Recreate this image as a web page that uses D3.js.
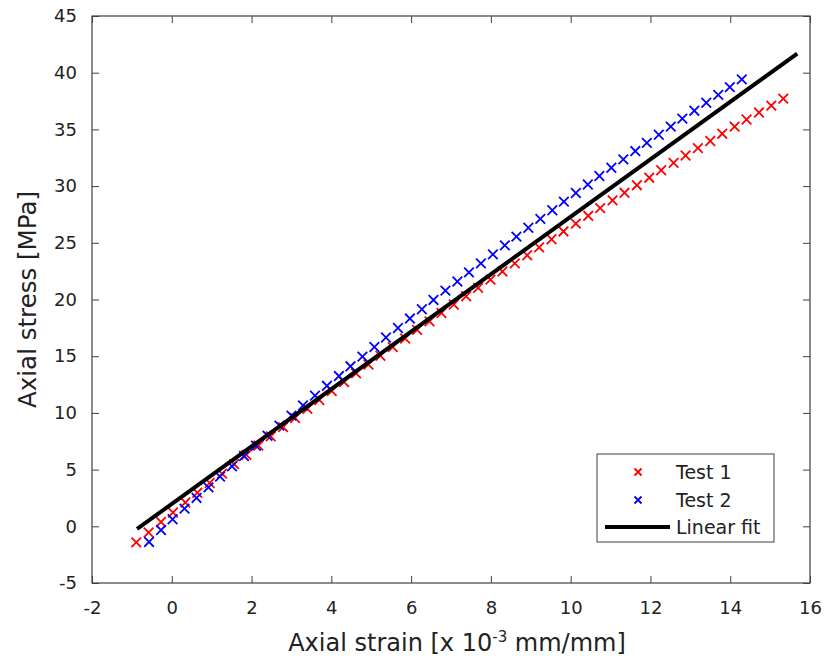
<!DOCTYPE html>
<html>
<head>
<meta charset="utf-8">
<script src="https://cdn.jsdelivr.net/npm/d3@7"></script>
<style>
  body { margin: 0; background: #fff; }
  svg { display: block; font-family: "DejaVu Sans", Verdana, sans-serif; }
</style>
</head>
<body>
<svg id="chart" width="827" height="666"></svg>
<script>
// Test 1 (red) - strain [x 10^-3] and stress [MPa]
const test1Strain = [-0.89, -0.58, -0.27, 0.03, 0.34, 0.64, 0.95, 1.26, 1.56, 1.87, 2.17, 2.48, 2.79, 3.09, 3.40, 3.70, 4.01, 4.32, 4.62, 4.93, 5.23, 5.54, 5.85, 6.15, 6.46, 6.76, 7.07, 7.38, 7.68, 7.99, 8.29, 8.60, 8.91, 9.21, 9.52, 9.82, 10.13, 10.44, 10.74, 11.05, 11.35, 11.66, 11.97, 12.27, 12.58, 12.88, 13.19, 13.50, 13.80, 14.11, 14.41, 14.72, 15.03, 15.33];
const test1Stress = [-1.42, -0.55, 0.38, 1.22, 2.10, 2.96, 3.82, 4.65, 5.48, 6.30, 7.12, 7.93, 8.74, 9.55, 10.35, 11.14, 11.93, 12.71, 13.49, 14.27, 15.04, 15.80, 16.56, 17.32, 18.07, 18.81, 19.56, 20.29, 21.02, 21.75, 22.47, 23.19, 23.90, 24.60, 25.31, 26.00, 26.69, 27.38, 28.06, 28.74, 29.41, 30.08, 30.74, 31.40, 32.05, 32.70, 33.35, 33.98, 34.62, 35.25, 35.87, 36.49, 37.10, 37.71];

// Test 2 (blue)
const test2Strain = [-0.57, -0.27, 0.02, 0.32, 0.62, 0.92, 1.21, 1.51, 1.81, 2.11, 2.40, 2.70, 3.00, 3.29, 3.59, 3.89, 4.19, 4.48, 4.78, 5.08, 5.37, 5.67, 5.97, 6.27, 6.56, 6.86, 7.16, 7.45, 7.75, 8.05, 8.35, 8.64, 8.94, 9.24, 9.54, 9.83, 10.13, 10.43, 10.72, 11.02, 11.32, 11.62, 11.91, 12.21, 12.51, 12.80, 13.10, 13.40, 13.70, 13.99, 14.29];
const test2Stress = [-1.38, -0.33, 0.62, 1.56, 2.50, 3.43, 4.38, 5.29, 6.20, 7.10, 7.99, 8.88, 9.76, 10.65, 11.52, 12.39, 13.25, 14.11, 14.96, 15.81, 16.65, 17.49, 18.32, 19.14, 19.96, 20.78, 21.59, 22.39, 23.19, 23.98, 24.77, 25.55, 26.33, 27.11, 27.87, 28.63, 29.39, 30.14, 30.89, 31.62, 32.36, 33.09, 33.81, 34.53, 35.24, 35.95, 36.65, 37.35, 38.04, 38.73, 39.41];

// Linear fit end points
const fitStrain = [-0.87, 15.68];
const fitStress = [-0.23, 41.68];

const xTicks = [-2, 0, 2, 4, 6, 8, 10, 12, 14, 16];
const yTicks = [-5, 0, 5, 10, 15, 20, 25, 30, 35, 40, 45];
const legendLabels = ["Test 1", "Test 2", "Linear fit"];

const margin = { top: 16, right: 17, bottom: 83, left: 92 },
      width = 827 - margin.left - margin.right,
      height = 666 - margin.top - margin.bottom;

const svg = d3.select("#chart");
const g = svg.append("g").attr("transform", `translate(${margin.left},${margin.top})`);

const x = d3.scaleLinear().domain([-2, 16]).range([0, width]);
const y = d3.scaleLinear().domain([-5, 45]).range([height, 0]);

const axisColor = "#404040";
const tickLen = 7;
const fmt = d => String(d); // plain hyphen for negatives

// axes (ticks point inward, mirrored on top/right)
function styleAxis(sel) {
  sel.select(".domain").remove();
  sel.selectAll(".tick line").attr("stroke", axisColor);
  sel.selectAll(".tick text").attr("fill", "#222").style("font-size", "18px")
    .style("font-family", "DejaVu Sans, Verdana, sans-serif");
}

g.append("g")
  .attr("transform", `translate(0,${height})`)
  .call(d3.axisBottom(x).tickValues(xTicks).tickSize(-tickLen).tickPadding(18).tickFormat(fmt))
  .call(styleAxis);

g.append("g")
  .call(d3.axisTop(x).tickValues(xTicks).tickSize(-tickLen).tickFormat(""))
  .call(styleAxis);

g.append("g")
  .call(d3.axisLeft(y).tickValues(yTicks).tickSize(-tickLen).tickPadding(15).tickFormat(fmt))
  .call(styleAxis);

g.append("g")
  .attr("transform", `translate(${width},0)`)
  .call(d3.axisRight(y).tickValues(yTicks).tickSize(-tickLen).tickFormat(""))
  .call(styleAxis);

g.append("rect")
  .attr("width", width).attr("height", height)
  .attr("fill", "none").attr("stroke", axisColor).attr("stroke-width", 1.2);

// cross markers
function crosses(xs, ys, color) {
  const r = 4.8;
  const pts = xs.map((d, i) => [x(d), y(ys[i])]);
  g.append("g").selectAll("path")
    .data(pts).enter().append("path")
    .attr("d", d => `M${d[0]-r},${d[1]-r}L${d[0]+r},${d[1]+r}M${d[0]-r},${d[1]+r}L${d[0]+r},${d[1]-r}`)
    .attr("stroke", color).attr("stroke-width", 1.8).attr("fill", "none");
}

crosses(test1Strain, test1Stress, "#ff0000");
crosses(test2Strain, test2Stress, "#0000ff");

g.append("path")
  .datum(fitStrain.map((d, i) => [d, fitStress[i]]))
  .attr("d", d3.line().x(d => x(d[0])).y(d => y(d[1])))
  .attr("stroke", "#000").attr("stroke-width", 4).attr("fill", "none");

// legend
const lg = svg.append("g").attr("transform", "translate(597,454)");
lg.append("rect").attr("width", 177).attr("height", 88)
  .attr("fill", "#fff").attr("stroke", axisColor).attr("stroke-width", 1);

const rowY = [18, 46, 73];
const mr = 3.5;
[["#ff0000", rowY[0]], ["#0000ff", rowY[1]]].forEach(([c, yy]) => {
  lg.append("path")
    .attr("d", `M${41-mr},${yy-mr}L${41+mr},${yy+mr}M${41-mr},${yy+mr}L${41+mr},${yy-mr}`)
    .attr("stroke", c).attr("stroke-width", 1.8);
});
lg.append("line").attr("x1", 8).attr("x2", 73).attr("y1", rowY[2]).attr("y2", rowY[2])
  .attr("stroke", "#000").attr("stroke-width", 4);

lg.selectAll("text.lab").data(legendLabels).enter().append("text")
  .attr("class", "lab")
  .attr("x", 79).attr("y", (d, i) => rowY[i])
  .attr("dy", "0.35em")
  .style("font-size", "19px").attr("fill", "#222")
  .text(d => d);

// axis titles
const xt = svg.append("text")
  .attr("x", margin.left + width / 2 + 6).attr("y", 651)
  .attr("text-anchor", "middle").style("font-size", "24px").attr("fill", "#222");
xt.append("tspan").text("Axial strain [x 10");
xt.append("tspan").attr("baseline-shift", "super").style("font-size", "15px").text("-3");
xt.append("tspan").text(" mm/mm]");

svg.append("text")
  .attr("transform", `translate(36,${margin.top + height / 2}) rotate(-90)`)
  .attr("text-anchor", "middle").style("font-size", "24.5px").attr("fill", "#222")
  .text("Axial stress [MPa]");
</script>
</body>
</html>
